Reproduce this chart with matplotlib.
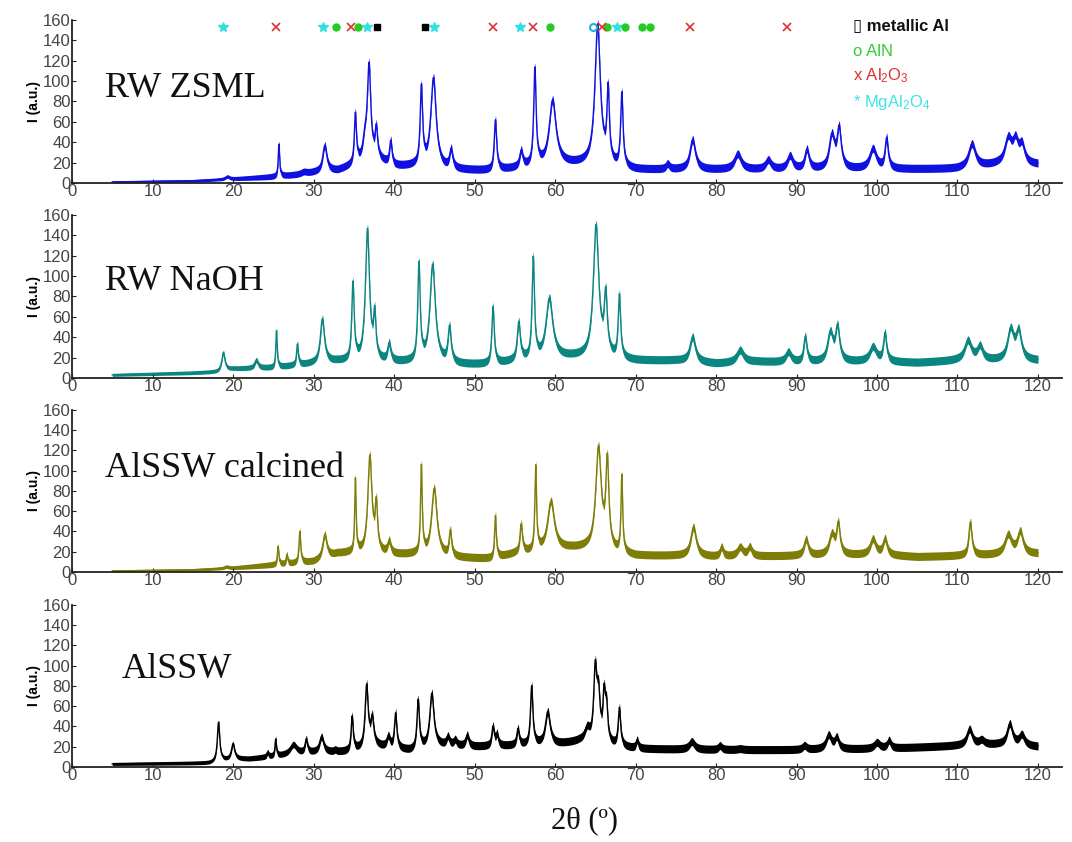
import numpy as np
import matplotlib.pyplot as plt

plt.rcParams['font.family'] = ['Liberation Sans', 'DejaVu Sans']

# scan range (2theta, degrees)
scan_start = 5.0
scan_end = 120.0

# panels, top to bottom
names = ['RW ZSML', 'RW NaOH', 'AlSSW calcined', 'AlSSW']
colors = ['#1010e0', '#0b8580', '#7d7d08', '#000000']

# background level under the peaks
zsml_bg_x = [5, 15, 20, 25, 28, 30, 33, 36, 38, 40, 43, 46, 52, 55, 60, 64, 70, 76, 90, 110, 115, 120]
zsml_bg_y = [1, 2, 4, 6, 8, 10, 12, 20, 22, 16, 16, 13, 12, 14, 18, 18, 13, 13, 13, 14, 18, 18]
naoh_bg_x = [5, 15, 18, 20, 25, 30, 33, 40, 43, 48, 52, 55, 62, 64, 70, 75, 80, 85, 90, 100, 105, 110, 120]
naoh_bg_y = [3, 5, 6, 9, 10, 14, 16, 15, 15, 13, 13, 16, 20, 20, 17, 17, 14, 16, 15, 16, 15, 17, 17]
calc_bg_x = [5, 15, 20, 25, 30, 33, 35, 40, 43, 48, 52, 55, 62, 64, 70, 75, 80, 90, 100, 105, 110, 120]
calc_bg_y = [1, 2, 4, 7, 10, 18, 19, 17, 17, 14, 13, 18, 23, 23, 16, 16, 15, 16, 17, 15, 16, 18]
alssw_bg_x = [5, 17, 20, 22, 27, 30, 34, 38, 42, 45, 50, 55, 60, 63, 70, 80, 90, 100, 110, 115, 120]
alssw_bg_y = [3, 4, 8, 8, 12, 14, 15, 20, 16, 21, 20, 21, 22, 25, 18, 17, 17, 18, 21, 22, 20]

# half width of the noise band on each trace
band_x = [5, 18, 25, 35, 120]
zsml_band = [1.0, 1.5, 3.0, 4.0, 4.0]
naoh_band = [1.5, 2.0, 3.0, 4.0, 4.0]
calc_band = [1.0, 1.5, 3.0, 4.0, 4.0]
alssw_band = [1.5, 2.0, 3.0, 4.0, 4.0]

# peaks: position (2theta), top intensity, width (fwhm)
zsml_pos = [19.3, 25.7, 28.8, 31.4, 35.2, 36.4, 36.9, 37.8, 39.6, 43.4, 44.9, 47.1, 52.6, 55.8, 57.5,
            59.7, 65.3, 66.6, 68.3, 74.0, 77.1, 82.7, 86.5, 89.2, 91.3, 94.4, 95.3, 99.5, 101.2,
            111.8, 116.3, 117.2, 118.0]
zsml_int = [8, 41, 14, 40, 70, 42, 116, 54, 44, 95, 106, 35, 65, 34, 114,
            84, 158, 90, 90, 22, 46, 32, 26, 30, 36, 49, 55, 37, 47,
            42, 46, 42, 39]
zsml_fwhm = [0.6, 0.2, 0.8, 0.6, 0.3, 0.6, 0.5, 0.35, 0.35, 0.35, 0.8, 0.45, 0.35, 0.45, 0.35,
             1.0, 0.8, 0.35, 0.35, 0.5, 0.8, 1.0, 0.8, 0.8, 0.6, 0.8, 0.6, 1.0, 0.45,
             1.0, 1.0, 0.8, 0.8]

naoh_pos = [18.8, 22.9, 25.4, 28.0, 31.1, 34.9, 36.7, 37.6, 39.4, 43.1, 44.8, 46.9, 52.3, 55.5, 57.3,
            59.3, 65.1, 66.3, 68.0, 77.1, 83.0, 89.0, 91.1, 94.2, 95.1, 99.5, 101.0, 111.3, 112.8,
            116.6, 117.6]
naoh_int = [27, 20, 49, 36, 61, 95, 148, 61, 36, 113, 114, 52, 73, 57, 119,
            81, 152, 80, 83, 44, 31, 29, 44, 47, 52, 34, 47, 40, 34,
            50, 48]
naoh_fwhm = [0.45, 0.5, 0.2, 0.25, 0.6, 0.35, 0.6, 0.35, 0.45, 0.35, 0.8, 0.45, 0.35, 0.45, 0.35,
             1.0, 0.8, 0.45, 0.35, 0.8, 1.0, 0.8, 0.45, 0.8, 0.6, 1.0, 0.45, 1.0, 0.8,
             0.9, 0.8]

calc_pos = [19.2, 25.6, 26.7, 28.3, 31.4, 35.2, 37.0, 37.8, 39.4, 43.4, 45.0, 47.0, 52.6, 55.8, 57.6,
            59.5, 65.4, 66.5, 68.3, 77.2, 80.7, 83.0, 84.2, 91.2, 94.4, 95.2, 99.5, 101.0, 111.6,
            116.3, 117.8]
calc_int = [7, 28, 20, 43, 40, 94, 117, 66, 33, 106, 86, 43, 59, 50, 106,
            73, 125, 109, 97, 48, 28, 28, 28, 36, 40, 50, 36, 36, 53,
            40, 43]
calc_fwhm = [0.6, 0.2, 0.2, 0.25, 0.6, 0.2, 0.6, 0.35, 0.45, 0.25, 0.8, 0.35, 0.25, 0.35, 0.25,
             1.0, 0.8, 0.45, 0.25, 0.8, 0.45, 0.8, 0.6, 0.6, 0.8, 0.5, 0.8, 0.6, 0.45,
             1.0, 0.8]

alssw_pos = [18.2, 20.0, 24.3, 25.3, 27.5, 29.1, 31.0, 32.7, 34.8, 36.6, 37.3, 39.3, 40.2, 43.0, 44.7,
             46.7, 47.6, 49.1, 52.3, 52.8, 55.4, 57.1, 59.1, 60.6, 64.0, 65.0, 65.4, 66.1, 66.4,
             68.0, 70.2, 77.0, 80.5, 83.0, 91.0, 94.0, 95.0, 100.0, 101.5, 111.5, 113.0, 116.5, 118.0]
alssw_int = [46, 25, 17, 30, 25, 30, 33, 20, 53, 83, 50, 33, 56, 69, 76,
             33, 30, 35, 43, 35, 41, 83, 58, 20, 40, 96, 69, 71, 58,
             61, 30, 29, 25, 22, 25, 35, 32, 28, 30, 41, 30, 46, 35]
alssw_fwhm = [0.35, 0.45, 0.25, 0.2, 1.0, 0.35, 0.6, 0.35, 0.3, 0.45, 0.45, 0.45, 0.35, 0.35, 0.6,
              0.45, 0.45, 0.45, 0.35, 0.35, 0.35, 0.35, 0.7, 0.35, 0.8, 0.45, 0.45, 0.35, 0.35,
              0.35, 0.35, 0.8, 0.5, 0.8, 0.6, 0.8, 0.6, 0.8, 0.5, 0.8, 0.8, 0.8, 0.8]

# phase markers drawn above the top trace
mgal2o4_pos = [18.7, 31.2, 36.6, 45.0, 55.7, 67.7]
aln_pos = [32.8, 35.5, 59.4, 66.4, 68.7, 70.8, 71.8]
al2o3_pos = [25.3, 34.7, 52.3, 57.3, 65.8, 76.8, 88.8]
al_pos = [37.9, 43.9]
spinel_open_pos = [64.7]
marker_row = 153.5

bg_x = [zsml_bg_x, naoh_bg_x, calc_bg_x, alssw_bg_x]
bg_y = [zsml_bg_y, naoh_bg_y, calc_bg_y, alssw_bg_y]
bands = [zsml_band, naoh_band, calc_band, alssw_band]
peak_pos = [zsml_pos, naoh_pos, calc_pos, alssw_pos]
peak_int = [zsml_int, naoh_int, calc_int, alssw_int]
peak_fwhm = [zsml_fwhm, naoh_fwhm, calc_fwhm, alssw_fwhm]

# label positions (data coords, baseline)
label_x = [4.1, 4.1, 4.1, 6.2]
label_y = [84.7, 86.4, 93.6, 87.6]

# axes boxes in figure fractions (left, bottom, width, height)
left, width = 0.0672, 0.9236
bottoms = [0.7827, 0.5511, 0.3207, 0.0891]
heights = [0.1936, 0.1936, 0.1924, 0.1924]

two_theta = np.arange(scan_start, scan_end + 0.001, 0.02)


def build_trace(i):
    # background plus lorentzian peaks; the top of the noise band sits at the read intensity
    bg = np.interp(two_theta, bg_x[i], bg_y[i])
    y = bg.copy()
    for p, h, w in zip(peak_pos[i], peak_int[i], peak_fwhm[i]):
        top = h - np.interp(p, band_x, bands[i])
        amp = max(top - np.interp(p, bg_x[i], bg_y[i]), 0)
        y += amp / (1 + ((two_theta - p) / (w / 2)) ** 2)
    return y


fig = plt.figure(figsize=(10.72, 8.42), dpi=100)

for i in range(4):
    ax = fig.add_axes([left, bottoms[i], width, heights[i]])
    y = build_trace(i)
    band = np.interp(two_theta, band_x, bands[i])
    ax.fill_between(two_theta, y - band, y + band, color=colors[i], lw=0)
    ax.plot(two_theta, y, color=colors[i], lw=1.0)

    ax.set_xlim(0, 123)
    ax.set_ylim(0, 160)
    ax.set_xticks(range(0, 121, 10))
    ax.set_yticks(range(0, 161, 20))
    for s in ['top', 'right']:
        ax.spines[s].set_visible(False)
    for s in ['left', 'bottom']:
        ax.spines[s].set_color('#222222')
        ax.spines[s].set_linewidth(1.3)
    ax.tick_params(direction='in', length=3, pad=1, labelsize=12, colors='#222222',
                   labelcolor='#444444')
    ax.set_ylabel('I (a.u.)', fontsize=10, fontweight='bold', labelpad=1)
    ax.patch.set_alpha(0)

    ax.text(label_x[i], label_y[i], names[i], family='Liberation Serif', fontsize=26,
            va='baseline', ha='left', color='#111111')

    if i == 0:
        ms = dict(ls='none', clip_on=False)
        ax.plot(mgal2o4_pos, [marker_row] * len(mgal2o4_pos), marker='*', color='#33e0e0', ms=7, **ms)
        ax.plot(spinel_open_pos, [marker_row] * len(spinel_open_pos), marker='o', mfc='none',
                mec='#20b0e0', mew=1.5, ms=5, **ms)
        ax.plot(aln_pos, [marker_row] * len(aln_pos), marker='o', color='#22cc22', ms=5, **ms)
        ax.plot(al2o3_pos, [marker_row] * len(al2o3_pos), marker='x', color='#e03030', ms=6, mew=1.2, **ms)
        ax.plot(al_pos, [marker_row] * len(al_pos), marker='s', color='#000000', ms=5, **ms)

        # phase key
        ax.text(97.0, 149.6, '\u25af metallic Al', fontsize=12, fontweight='bold',
                family=['Liberation Sans', 'DejaVu Sans'], color='#111111')
        ax.text(97.0, 125.0, 'o AlN', fontsize=12, color='#33cc33')
        ax.text(97.0, 101.0, 'x Al$\\mathregular{_2}$O$\\mathregular{_3}$', fontsize=12, color='#dd3030')
        ax.text(97.0, 75.0, '* MgAl$\\mathregular{_2}$O$\\mathregular{_4}$', fontsize=12, color='#40e0e8')

fig.text(0.545, 0.016, '2\u03b8 (\u00ba)', family='Liberation Serif', fontsize=22,
         ha='center', va='baseline', color='#111111')

fig.savefig('out.png', dpi=100)
